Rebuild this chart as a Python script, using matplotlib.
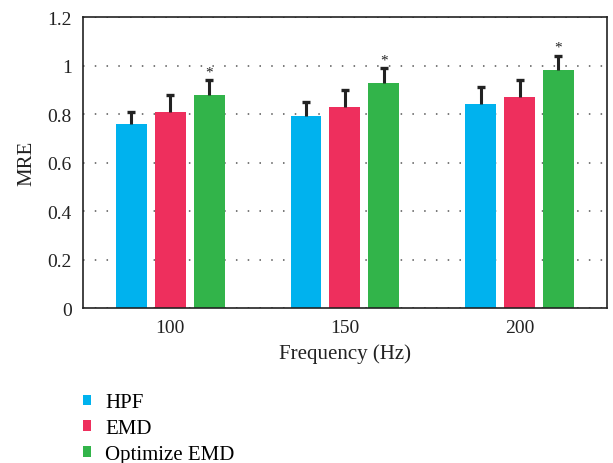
import matplotlib
matplotlib.use("Agg")
import matplotlib.pyplot as plt
import numpy as np
from matplotlib.patches import Patch

categories = ["100", "150", "200"]
series_names = ["HPF", "EMD", "Optimize EMD"]
hpf = [0.76, 0.79, 0.84]
emd = [0.81, 0.83, 0.87]
opt = [0.88, 0.93, 0.98]
hpf_err = [0.05, 0.06, 0.07]
emd_err = [0.07, 0.07, 0.07]
opt_err = [0.06, 0.06, 0.06]
colors = ["#00B2EE", "#EE2F5D", "#32B44A"]

plt.rcParams['font.family'] = ['Liberation Serif', 'DejaVu Serif']

fig = plt.figure(figsize=(6.13, 4.64), dpi=100)
ax = fig.add_axes([0.1354, 0.334, 0.8546, 0.627])

x = np.arange(1, len(categories) + 1)
w = 0.177
off = 0.223
vals = [hpf, emd, opt]
errs = [hpf_err, emd_err, opt_err]
for i, (v, e, c) in enumerate(zip(vals, errs, colors)):
    pos = x + (i - 1) * off
    v = np.array(v)
    e = np.array(e)
    ax.bar(pos, v, width=w, color=c, zorder=2)
    ax.vlines(pos, v, v + e, color='#222222', linewidth=2.2, zorder=3)
    ax.plot(pos, v + e, linestyle='none', marker='_', markersize=6, mew=2.4,
            color='#222222', zorder=3)
    if i == 2:
        for p, top in zip(pos, v + e):
            ax.text(p, top + 0.008, '*', ha='center', va='bottom', fontsize=11, color='#222222')

ax.set_xlim(0.5, 3.5)
ax.set_ylim(0, 1.2)
ax.set_yticks([0, 0.2, 0.4, 0.6, 0.8, 1.0, 1.2])
ax.set_yticklabels(["0", "0.2", "0.4", "0.6", "0.8", "1", "1.2"])
ax.set_xticks(x)
ax.set_xticklabels(categories)
ax.tick_params(axis='both', length=0, labelsize=14, pad=8, colors='#222222')
ax.yaxis.grid(True, linestyle=(0, (1, 6.7)), color='#555555', linewidth=1.1, zorder=0)
ax.set_axisbelow(True)
for s in ax.spines.values():
    s.set_color('#222222')
    s.set_linewidth(1.2)
ax.set_xlabel("Frequency (Hz)", fontsize=15, color='#222222', labelpad=5)
ax.set_ylabel("MRE", fontsize=15, color='#222222', labelpad=8)

handles = [Patch(facecolor=c, edgecolor='none') for c in colors]
fig.legend(handles, series_names, loc='lower left', bbox_to_anchor=(0.115, -0.029),
           frameon=False, fontsize=15, handlelength=0.39, handleheight=0.39,
           handletextpad=0.67, labelspacing=0.33, borderaxespad=0.2)

fig.savefig("out.png", dpi=100)
